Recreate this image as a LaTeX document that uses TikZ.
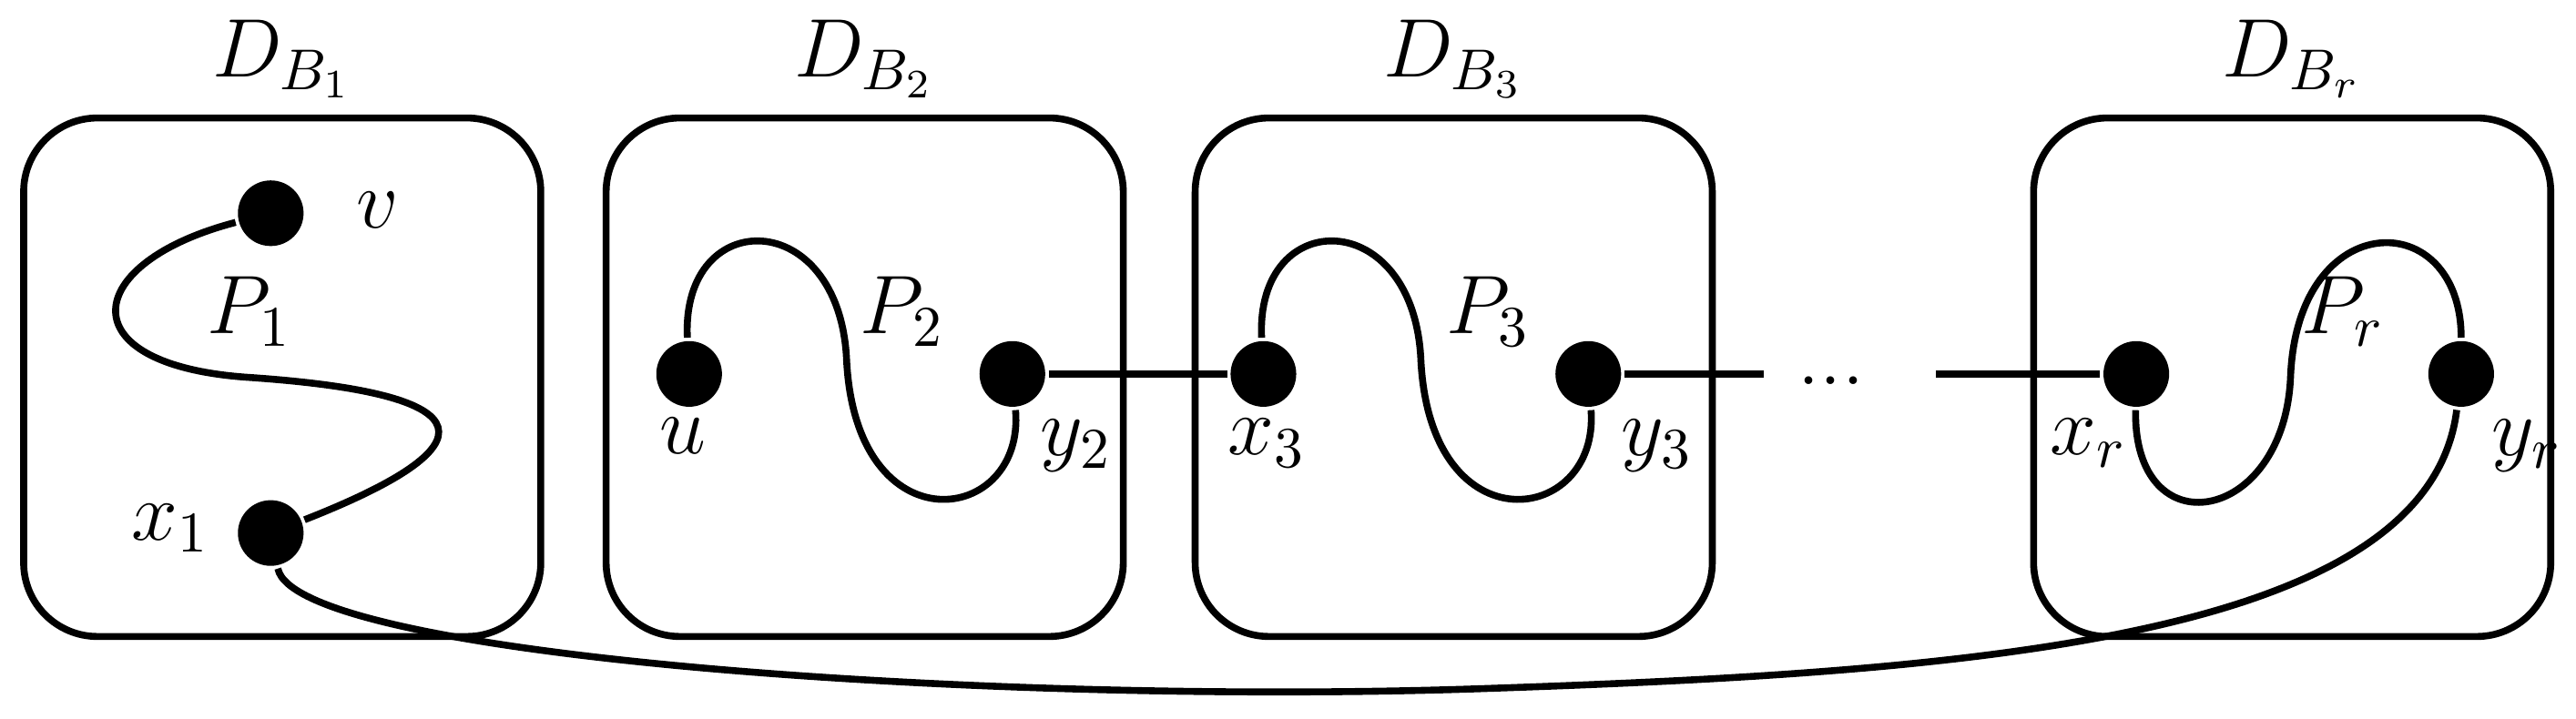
\documentclass[tikz,border=0pt]{standalone}
\begin{document}
\begin{tikzpicture}[x=0.01cm,y=-0.01cm,line width=1.2pt,
  blk/.style={draw,rounded corners=0.45cm,minimum width=3.15cm,minimum height=3.16cm,line width=1.2pt},
  dot/.style={circle,fill=black,inner sep=0pt,minimum size=0.4cm},
  lab/.style={font=\fontsize{14}{16}\selectfont}]
\useasboundingbox (0,0) rectangle (1570,438);
\node[blk] (b1) at (172,230) {};
\node[blk] (b2) at (527,230) {};
\node[blk] (b3) at (886,230) {};
\node[blk] (b4) at (1397,230) {};
\node[lab] (d1) at (172,36) {$D_{B_1}$};
\node[lab] (d2) at (527,36) {$D_{B_2}$};
\node[lab] (d3) at (886,36) {$D_{B_3}$};
\node[lab] (d4) at (1397,36) {$D_{B_r}$};
\node[dot] (v) at (165,130) {};
\node[dot] (x1) at (165,325) {};
\node[dot] (u) at (420,228) {};
\node[dot] (y2) at (617,228) {};
\node[dot] (x3) at (770,228) {};
\node[dot] (y3) at (968,228) {};
\node[dot] (xr) at (1302,228) {};
\node[dot] (yr) at (1500,228) {};
\node[lab] (lv) at (230,128) {$v$};
\node[lab] (lp1) at (152,190) {$P_1$};
\node[lab] (lx1) at (104,322) {$x_1$};
\node[lab] (lu) at (416,266) {$u$};
\node[lab] (lp2) at (550,190) {$P_2$};
\node[lab] (ly2) at (656,272) {$y_2$};
\node[lab] (lx3) at (772,270) {$x_3$};
\node[lab] (lp3) at (907,190) {$P_3$};
\node[lab] (ly3) at (1010,272) {$y_3$};
\node[lab] (lxr) at (1273,270) {$x_r$};
\node[lab] (lpr) at (1428,190) {$P_r$};
\node[lab] (lyr) at (1540,272) {$y_r$};
\node[lab] (dd) at (1116,232) {...};
\coordinate (e1) at (1075,228);
\coordinate (e2) at (1180,228);
\draw (v) .. controls (50,160) and (40,222) .. (150,230) .. controls (300,240) and (300,272) .. (x1);
\draw (u) .. controls (415,125) and (512,125) .. (516,220) .. controls (522,335) and (625,320) .. (y2);
\draw (x3) .. controls (765,125) and (862,125) .. (866,220) .. controls (872,335) and (975,320) .. (y3);
\draw (xr) .. controls (1300,335) and (1392,320) .. (1396,230) .. controls (1400,125) and (1500,125) .. (yr);
\draw (y2) -- (x3);
\draw (y3) -- (e1);
\draw (e2) -- (xr);
\draw (x1) .. controls (180,400) and (600,430) .. (900,420) .. controls (1200,410) and (1480,390) .. (yr);
\end{tikzpicture}
\end{document}
